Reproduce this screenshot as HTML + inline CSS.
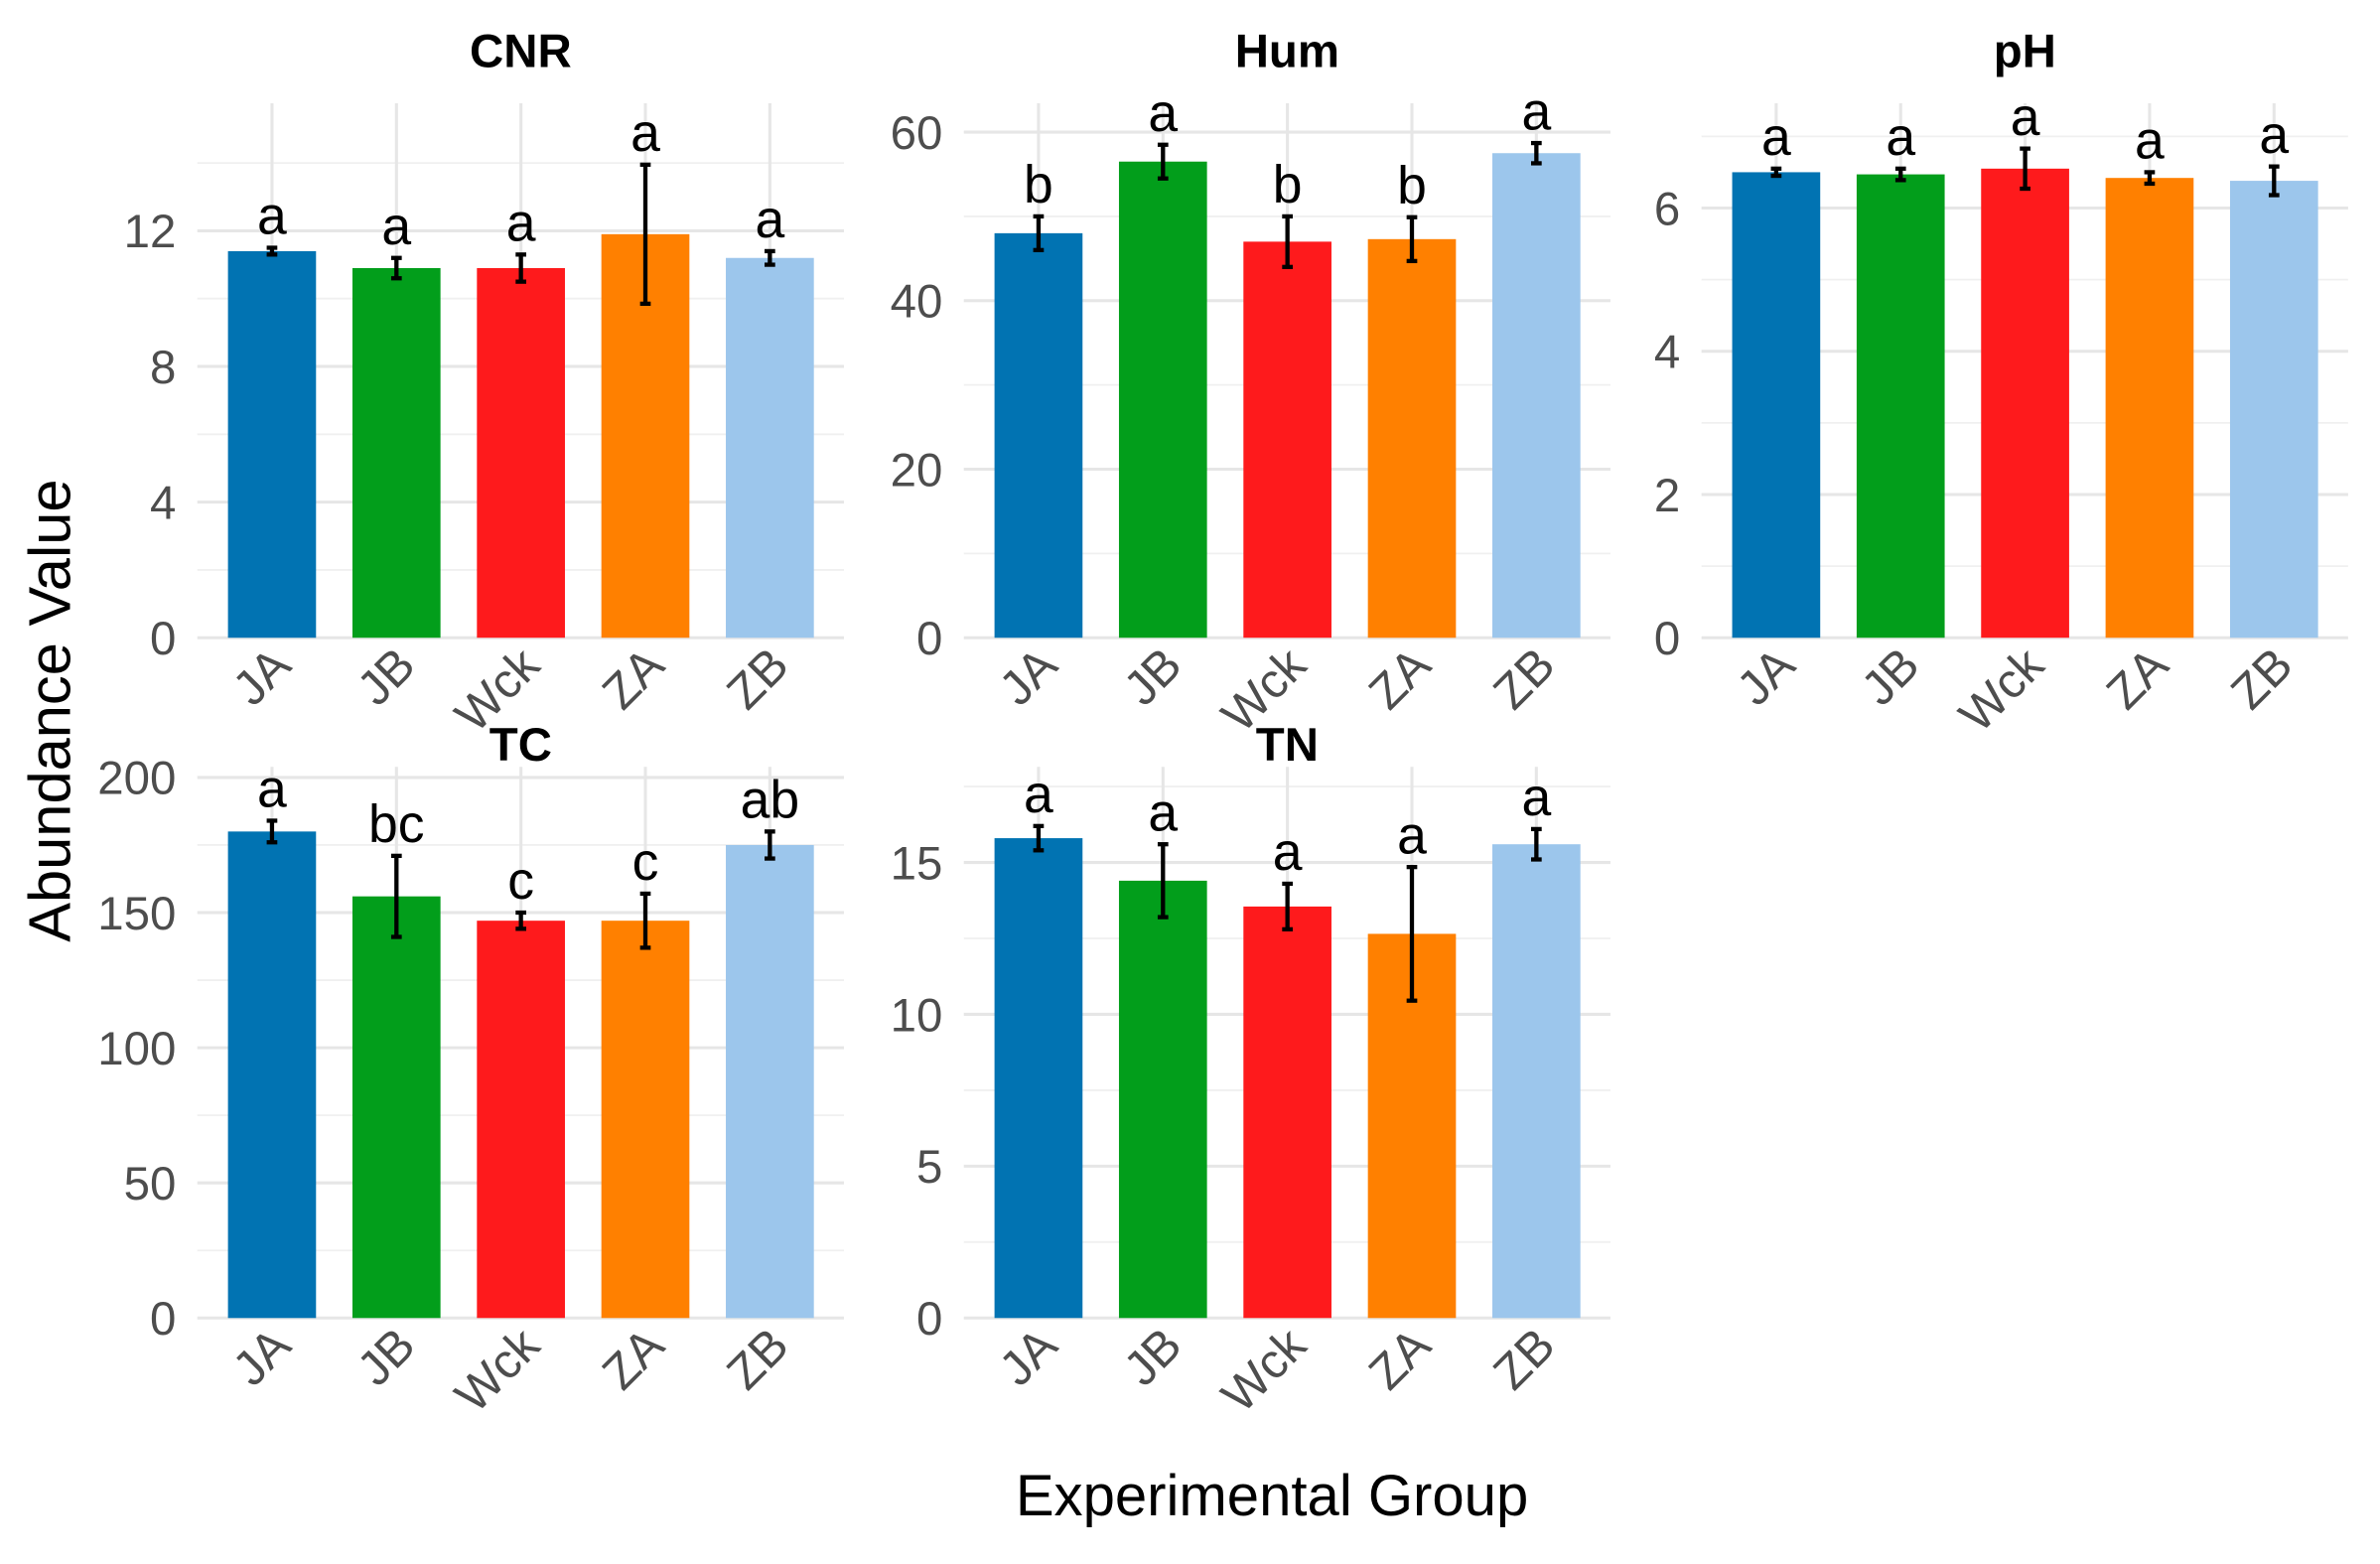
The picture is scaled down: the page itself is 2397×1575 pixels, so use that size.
<!DOCTYPE html>
<html><head><meta charset="utf-8"><style>
html,body{margin:0;padding:0;background:#fff;}
svg{display:block;font-family:"Liberation Sans",sans-serif;}
</style></head><body>
<svg id="chart" width="2397" height="1575" viewBox="0 0 1568 1030" preserveAspectRatio="none" xmlns="http://www.w3.org/2000/svg">
<text x="0" y="0" transform="translate(46,468) rotate(-90)" text-anchor="middle" font-size="39" fill="#000">Abundance Value</text>
<text x="838" y="998" text-anchor="middle" font-size="38" fill="#000">Experimental Group</text>
</svg>
<script>
const categories = ["JA","JB","Wck","ZA","ZB"];
const colors = ["#0173b2","#029e1b","#fe1a1c","#ff8000","#9cc6ec"];
const panelNames = ["CNR","Hum","pH","TC","TN"];
const cnrValues = [11.4,10.9,10.9,11.9,11.2];
const cnrErrors = [0.1,0.3,0.4,2.05,0.2];
const cnrLetters = ["a","a","a","a","a"];
const cnrTicks = [0,4,8,12];
const humValues = [48,56.5,47,47.3,57.5];
const humErrors = [2,2,3,2.6,1.2];
const humLetters = ["b","a","b","b","a"];
const humTicks = [0,20,40,60];
const phValues = [6.5,6.47,6.55,6.42,6.38];
const phErrors = [0.05,0.08,0.28,0.08,0.2];
const phLetters = ["a","a","a","a","a"];
const phTicks = [0,2,4,6];
const tcValues = [180,156,147,147,175];
const tcErrors = [4,15,3,10,5];
const tcLetters = ["a","bc","c","c","ab"];
const tcTicks = [0,50,100,150,200];
const tnValues = [15.8,14.4,13.55,12.65,15.6];
const tnErrors = [0.4,1.2,0.75,2.2,0.5];
const tnLetters = ["a","a","a","a","a"];
const tnTicks = [0,5,10,15];

const NS="http://www.w3.org/2000/svg";
const svg=document.getElementById('chart');
function mk(tag,attrs,parent){const e=document.createElementNS(NS,tag);for(const k in attrs)e.setAttribute(k,attrs[k]);(parent||svg).appendChild(e);return e;}

const panels=[
 {name:panelNames[0],vals:cnrValues,errs:cnrErrors,lets:cnrLetters,ticks:cnrTicks,x0:130,y0:420,top:68,scaleTop:152,scaleVal:12,titleY:44},
 {name:panelNames[1],vals:humValues,errs:humErrors,lets:humLetters,ticks:humTicks,x0:635,y0:420,top:68,scaleTop:87,scaleVal:60,titleY:44},
 {name:panelNames[2],vals:phValues,errs:phErrors,lets:phLetters,ticks:phTicks,x0:1121,y0:420,top:68,scaleTop:137,scaleVal:6,titleY:44},
 {name:panelNames[3],vals:tcValues,errs:tcErrors,lets:tcLetters,ticks:tcTicks,x0:130,y0:868,top:505,scaleTop:512,scaleVal:200,titleY:501},
 {name:panelNames[4],vals:tnValues,errs:tnErrors,lets:tnLetters,ticks:tnTicks,x0:635,y0:868,top:505,scaleTop:568,scaleVal:15,titleY:501}
];
const step=82, W=426;
panels.forEach(p=>{
 const g=mk('g',{});
 
 
 const k=(p.y0-p.scaleTop)/p.scaleVal;
 const y=v=>p.y0-v*k;
 const x=i=>p.x0+step*0.6+i*step;
 const dt=p.ticks[1]-p.ticks[0];
 for(let v=dt/2; y(v)>=p.top-1; v+=dt){
  const l=mk('line',{x1:p.x0,x2:p.x0+W,y1:y(v),y2:y(v),stroke:'#f0f0f0','stroke-width':1.2},g);
  
  
 }
 p.ticks.forEach(t=>{
  const l=mk('line',{x1:p.x0,x2:p.x0+W,y1:y(t),y2:y(t),stroke:'#e6e6e6','stroke-width':2},g);
  
  
  const tx=mk('text',{x:p.x0-14,y:y(t)+11,'text-anchor':'end','font-size':31,fill:'#4d4d4d'},g);
  tx.textContent=t;
  
  
 });
 const tt=mk('text',{x:p.x0+W/2,y:p.titleY,'text-anchor':'middle','font-size':31,'font-weight':'bold',fill:'#000'},g);
 tt.textContent=p.name;
 
 
 categories.forEach((c,i)=>{
  const vl=mk('line',{x1:x(i),x2:x(i),y1:p.top,y2:p.y0,stroke:'#e6e6e6','stroke-width':2},g);
  
  
 });
 categories.forEach((c,i)=>{
  const v=p.vals[i], e=p.errs[i];
  const r=mk('rect',{x:x(i)-29,y:y(v),width:58,height:p.y0-y(v),fill:colors[i]},g);
  
  
  const eg=mk('g',{stroke:'#000','stroke-width':2.8},g);
  
  
  mk('line',{x1:x(i),x2:x(i),y1:y(v+e),y2:y(v-e)},eg);
  mk('line',{x1:x(i)-3.5,x2:x(i)+3.5,y1:y(v+e),y2:y(v+e)},eg);
  mk('line',{x1:x(i)-3.5,x2:x(i)+3.5,y1:y(v-e),y2:y(v-e)},eg);
  const lt=mk('text',{x:x(i),y:y(v+e)-9,'text-anchor':'middle','font-size':35,fill:'#000'},g);
  lt.textContent=p.lets[i];
  
  
  const xl=mk('text',{x:0,y:0,'text-anchor':'end','font-size':32,fill:'#4d4d4d',transform:`translate(${x(i)+14},${p.y0+20}) rotate(-45)`},g);
  xl.textContent=c;
  
  
 });
});
</script>
</body></html>
